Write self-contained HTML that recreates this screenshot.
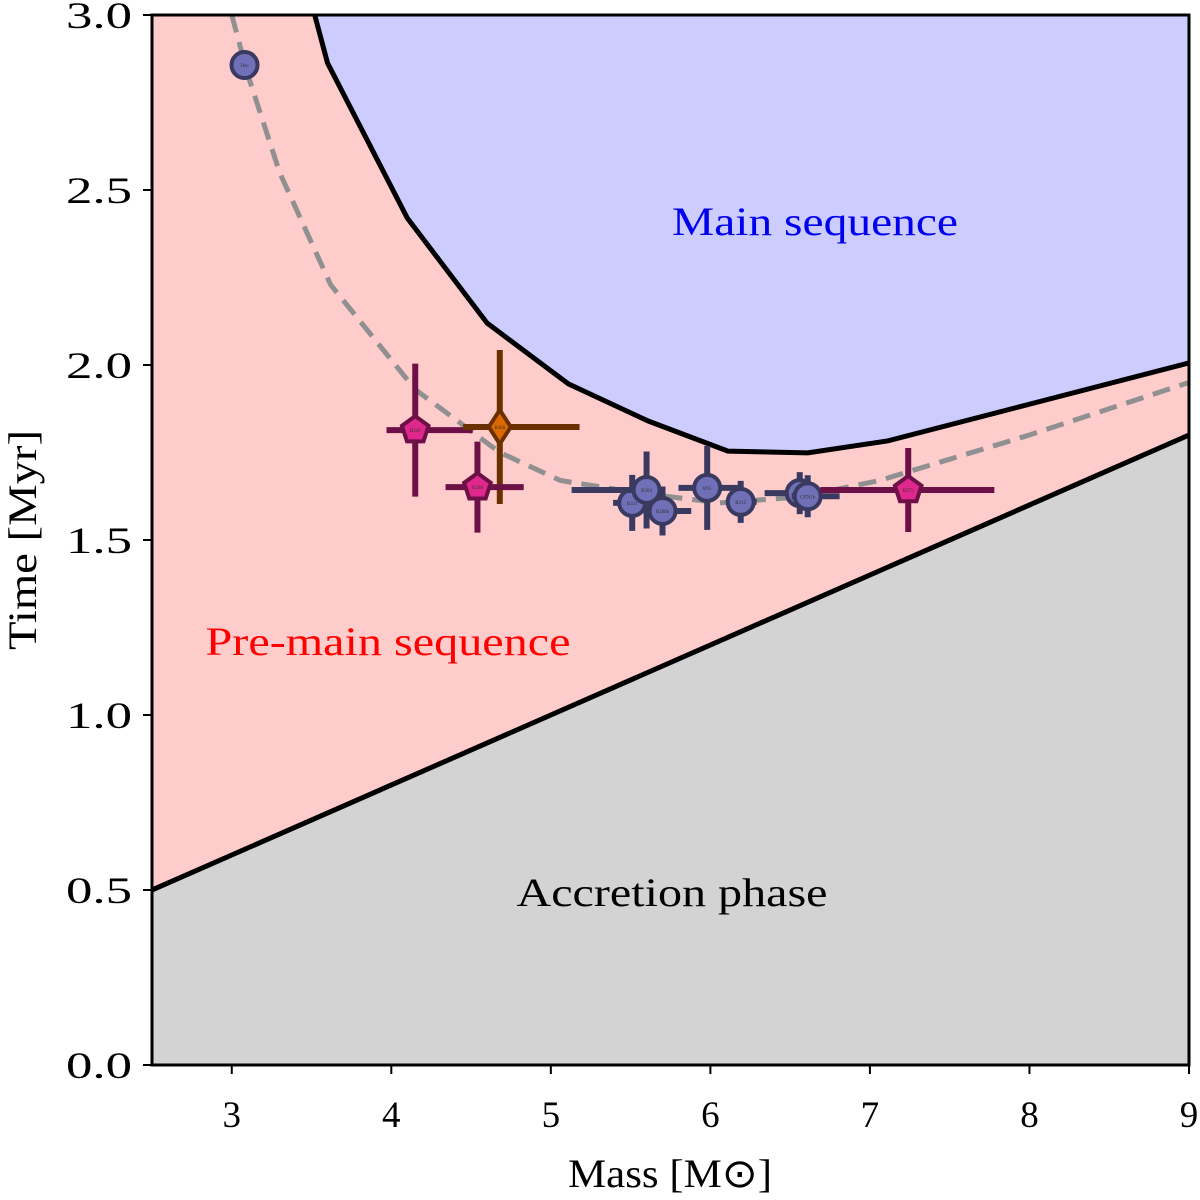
<!DOCTYPE html>
<html><head><meta charset="utf-8"><style>
html,body{margin:0;padding:0;background:#fff;}
svg{display:block;font-family:"Liberation Serif",serif;}
</style></head><body>
<svg id="chart" width="1200" height="1200" viewBox="0 0 1200 1200">
<defs><clipPath id="plotclip"><rect x="152" y="15" width="1037" height="1050"/></clipPath></defs>
<g id="regions" clip-path="url(#plotclip)"></g>
<g id="marks" clip-path="url(#plotclip)"></g>
<g id="axes"></g>
</svg>
<script>
const xTicks=[3,4,5,6,7,8,9];
const yTicks=[0.0,0.5,1.0,1.5,2.0,2.5,3.0];
const accretionX=[2.5,9];
const accretionY=[0.5,1.8];
const msX=[3.52,3.60,4.10,4.60,5.11,5.61,6.11,6.61,7.11,9.0];
const msY=[3.0,2.863,2.42,2.12,1.946,1.84,1.754,1.749,1.783,2.006];
const isoX=[3.0,3.1,3.3,3.62,4.15,4.68,5.06,5.56,6.06,6.56,7.06,8.0,9.0];
const isoY=[3.0,2.83,2.55,2.229,1.93,1.75,1.67,1.634,1.606,1.623,1.67,1.80,1.95];
const starNames=['Dee','B243','B460','B268','B331','B304','B268b','B95','B215','CEN1a','CEN1b','B275'];
const starX=[3.08,4.15,4.68,4.54,5.51,5.60,5.70,5.98,6.19,6.56,6.61,7.24];
const starY=[2.857,1.814,1.823,1.651,1.606,1.643,1.583,1.649,1.609,1.634,1.625,1.643];
const starXlo=[0,0.18,0.23,0.2,0.12,0.47,0.12,0.18,0.09,0.22,0.10,0.55];
const starXhi=[0,0.36,0.50,0.29,0.12,0.10,0.18,0.22,0.10,0.10,0.20,0.54];
const starYerr=[0,0.19,0.22,0.13,0.08,0.11,0.07,0.12,0.06,0.06,0.06,0.12];
const starType=['circle','pentagon','diamond','pentagon','circle','circle','circle','circle','circle','circle','circle','pentagon'];

const X0=2.5,X1=9,Y0=0,Y1=3,L=152,R=1189,T=15,B=1065;
const sx=v=>L+(v-X0)/(X1-X0)*(R-L);
const sy=v=>B-(v-Y0)/(Y1-Y0)*(B-T);
const NS='http://www.w3.org/2000/svg';
function mk(tag,attrs,parent){const e=document.createElementNS(NS,tag);for(const k in attrs)e.setAttribute(k,attrs[k]);parent.appendChild(e);return e;}
const reg=document.getElementById('regions'),marks=document.getElementById('marks'),axes=document.getElementById('axes');

let e=mk('rect',{x:L,y:T,width:R-L,height:B-T,fill:'#ffcccc'},reg);


let d='M'+sx(msX[0])+','+sy(3.2);
for(let i=0;i<msX.length;i++)d+=' L'+sx(msX[i])+','+sy(msY[i]);
d+=' L'+sx(9.5)+','+sy(msY[msY.length-1])+' L'+sx(9.5)+','+sy(3.2)+'Z';
e=mk('path',{d:d,fill:'#ccccff'},reg);


d='M'+sx(accretionX[0])+','+sy(accretionY[0])+' L'+sx(accretionX[1])+','+sy(accretionY[1])+' L'+sx(accretionX[1])+','+sy(0)+' L'+sx(accretionX[0])+','+sy(0)+'Z';
e=mk('path',{d:d,fill:'#d3d3d3'},reg);


e=mk('line',{x1:sx(accretionX[0]),y1:sy(accretionY[0]),x2:sx(accretionX[1]),y2:sy(accretionY[1]),stroke:'#000','stroke-width':5},reg);


e=mk('polyline',{points:msX.map((v,i)=>sx(v)+','+sy(msY[i])).join(' '),fill:'none',stroke:'#000','stroke-width':5,'stroke-linejoin':'round'},reg);


e=mk('polyline',{points:isoX.map((v,i)=>sx(v)+','+sy(isoY[i])).join(' '),fill:'none',stroke:'#909090','stroke-width':5,'stroke-dasharray':'18,10'},reg);



function label(txt,x,y,col,name,w){const t=mk('text',{x:x,y:y,'text-anchor':'middle','font-size':40,fill:col,textLength:w,lengthAdjust:'spacingAndGlyphs'},reg);t.textContent=txt;

}
label('Main sequence',815,235,'#0000ee','main-sequence-label',286);
label('Pre-main sequence',388,655,'#ff0000','pre-main-sequence-label',365);
label('Accretion phase',672,906,'#000','accretion-phase-label',311);

const styles={circle:{fill:'#7070b8',edge:'#3a3a60'},pentagon:{fill:'#e0288c',edge:'#6e1048'},diamond:{fill:'#dd6a00',edge:'#6a3000'}};
for(let i=0;i<starX.length;i++){
  const g=mk('g',{},marks);
  
  
  const st=styles[starType[i]],cx=sx(starX[i]),cy=sy(starY[i]);
  if(starXlo[i]+starXhi[i]>0){
    mk('line',{x1:sx(starX[i]-starXlo[i]),y1:cy,x2:sx(starX[i]+starXhi[i]),y2:cy,stroke:st.edge,'stroke-width':6},g);
    mk('line',{x1:cx,y1:sy(starY[i]-starYerr[i]),x2:cx,y2:sy(starY[i]+starYerr[i]),stroke:st.edge,'stroke-width':6},g);
  }
  if(starType[i]==='circle')mk('circle',{cx:cx,cy:cy,r:13,fill:st.fill,stroke:st.edge,'stroke-width':4},g);
  else if(starType[i]==='pentagon'){let p=[];for(let k=0;k<5;k++){const a=-Math.PI/2+k*2*Math.PI/5;p.push((cx+14*Math.cos(a))+','+(cy+14*Math.sin(a)));}
    mk('polygon',{points:p.join(' '),fill:st.fill,stroke:st.edge,'stroke-width':4},g);}
  else mk('polygon',{points:`${cx},${cy-17} ${cx+11},${cy} ${cx},${cy+17} ${cx-11},${cy}`,fill:st.fill,stroke:st.edge,'stroke-width':4},g);
  const t=mk('text',{x:cx,y:cy+2,'text-anchor':'middle','font-size':5,fill:'#333'},g);t.textContent=starNames[i];
}

e=mk('rect',{x:L,y:T,width:R-L,height:B-T,fill:'none',stroke:'#000','stroke-width':3},axes);


xTicks.forEach(v=>{const x=sx(v);mk('line',{x1:x,y1:B,x2:x,y2:B+9,stroke:'#000','stroke-width':2},axes);
  const t=mk('text',{x:x,y:1127,'text-anchor':'middle','font-size':37},axes);t.textContent=String(v);
  
  });
yTicks.forEach(v=>{const y=sy(v);mk('line',{x1:L-9,y1:y,x2:L,y2:y,stroke:'#000','stroke-width':2},axes);
  const t=mk('text',{x:L-20,y:y+13,'text-anchor':'end','font-size':37,textLength:66,lengthAdjust:'spacingAndGlyphs'},axes);t.textContent=v.toFixed(1);
  
  });
let t=mk('text',{x:670,y:1187,'text-anchor':'middle','font-size':40,textLength:204,lengthAdjust:'spacingAndGlyphs'},axes);t.textContent='Mass [M\u2299]';


t=mk('text',{x:0,y:0,'text-anchor':'middle','font-size':40,textLength:220,lengthAdjust:'spacingAndGlyphs',transform:'translate(36,540) rotate(-90)'},axes);t.textContent='Time [Myr]';


</script>
</body></html>
